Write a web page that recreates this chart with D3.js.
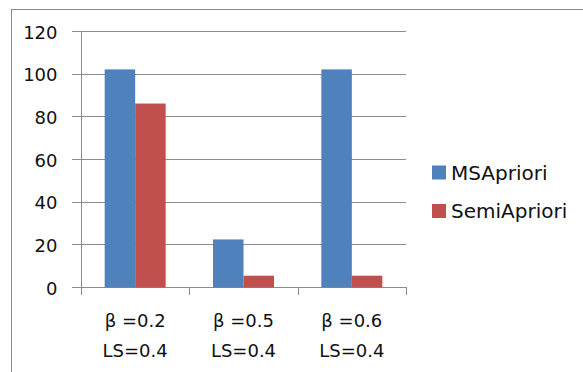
<!DOCTYPE html>
<html>
<head>
<meta charset="utf-8">
<script src="https://cdn.jsdelivr.net/npm/d3@7"></script>
<style>
  html, body { margin: 0; padding: 0; background: #fff; }
  svg { display: block; }
  text { font-family: "DejaVu Sans", sans-serif; fill: #111; }
</style>
</head>
<body>
<svg id="chart" width="583" height="372"></svg>
<script>
const categories = [["β =0.2", "LS=0.4"], ["β =0.5", "LS=0.4"], ["β =0.6", "LS=0.4"]];
const seriesNames = ["MSApriori", "SemiApriori"];
const msApriori = [102, 22.3, 102];
const semiApriori = [86, 5.3, 5.3];
const yTicks = [0, 20, 40, 60, 80, 100, 120];
const colors = ["#4f81bd", "#c0504d"];

(function () {
const catKeys = categories.map((c, i) => String(i));
const seriesValues = [msApriori, semiApriori];

const svg = d3.select("#chart");
const plotLeft = 81, plotRight = 406, plotTop = 31, plotBottom = 287;

// outer chart border (extends past the window)
svg.append("rect")
  .attr("x", 11.5).attr("y", 9.5)
  .attr("width", 700).attr("height", 500)
  .attr("fill", "none").attr("stroke", "#8a8a8a").attr("stroke-width", 1);

const y = d3.scaleLinear().domain([0, 120]).range([plotBottom, plotTop]);
const p = 0.437;
const x = d3.scaleBand().domain(catKeys).range([plotLeft, plotRight]).paddingInner(p).paddingOuter(p / 2);
const x1 = d3.scaleBand().domain(seriesNames).range([0, x.bandwidth()]);

// gridlines + y ticks
const grid = svg.append("g");
yTicks.forEach(t => {
  grid.append("line")
    .attr("x1", plotLeft - 9).attr("x2", plotRight)
    .attr("y1", Math.round(y(t)) + 0.5).attr("y2", Math.round(y(t)) + 0.5)
    .attr("stroke", "#8c8c8c").attr("stroke-width", 1);
  svg.append("text")
    .attr("x", 57.5).attr("y", y(t) + 7.5)
    .attr("text-anchor", "end")
    .style("font-size", "18px")
    .text(t);
});

// y axis line
svg.append("line")
  .attr("x1", plotLeft + 0.5).attr("x2", plotLeft + 0.5)
  .attr("y1", y(120)).attr("y2", plotBottom + 8)
  .attr("stroke", "#8c8c8c");

// x tick marks at category boundaries
const step = x.step();
const bounds = catKeys.map(k => x(k) - step * p / 2).concat([plotRight]);
bounds.forEach(b => {
  svg.append("line")
    .attr("x1", Math.round(b) + 0.5).attr("x2", Math.round(b) + 0.5)
    .attr("y1", plotBottom).attr("y2", plotBottom + 8)
    .attr("stroke", "#8c8c8c");
});

// bars
const groups = svg.append("g").selectAll("g")
  .data(catKeys).join("g")
  .attr("transform", k => `translate(${x(k)},0)`);

groups.selectAll("rect")
  .data((k, i) => seriesNames.map((s, j) => ({ s, j, v: seriesValues[j][i] })))
  .join("rect")
  .attr("x", d => x1(d.s))
  .attr("width", x1.bandwidth())
  .attr("y", d => y(d.v))
  .attr("height", d => y(0) - y(d.v) + 0.5)
  .attr("fill", d => colors[d.j]);

// x labels
catKeys.forEach((k, i) => {
  const cx = x(k) + x.bandwidth() / 2;
  categories[i].forEach((line, li) => {
    svg.append("text")
      .attr("x", cx).attr("y", 327 + li * 30)
      .attr("text-anchor", "middle")
      .style("font-size", "18px")
      .text(line);
  });
});

// legend
const legend = svg.append("g");
seriesNames.forEach((s, j) => {
  const by = 179.5 + j * 38.5;
  legend.append("rect")
    .attr("x", 432).attr("y", by - 14)
    .attr("width", 14).attr("height", 14)
    .attr("fill", colors[j]);
  legend.append("text")
    .attr("x", 451).attr("y", by)
    .style("font-size", "20px")
    .text(s);
});
})();
</script>
</body>
</html>
